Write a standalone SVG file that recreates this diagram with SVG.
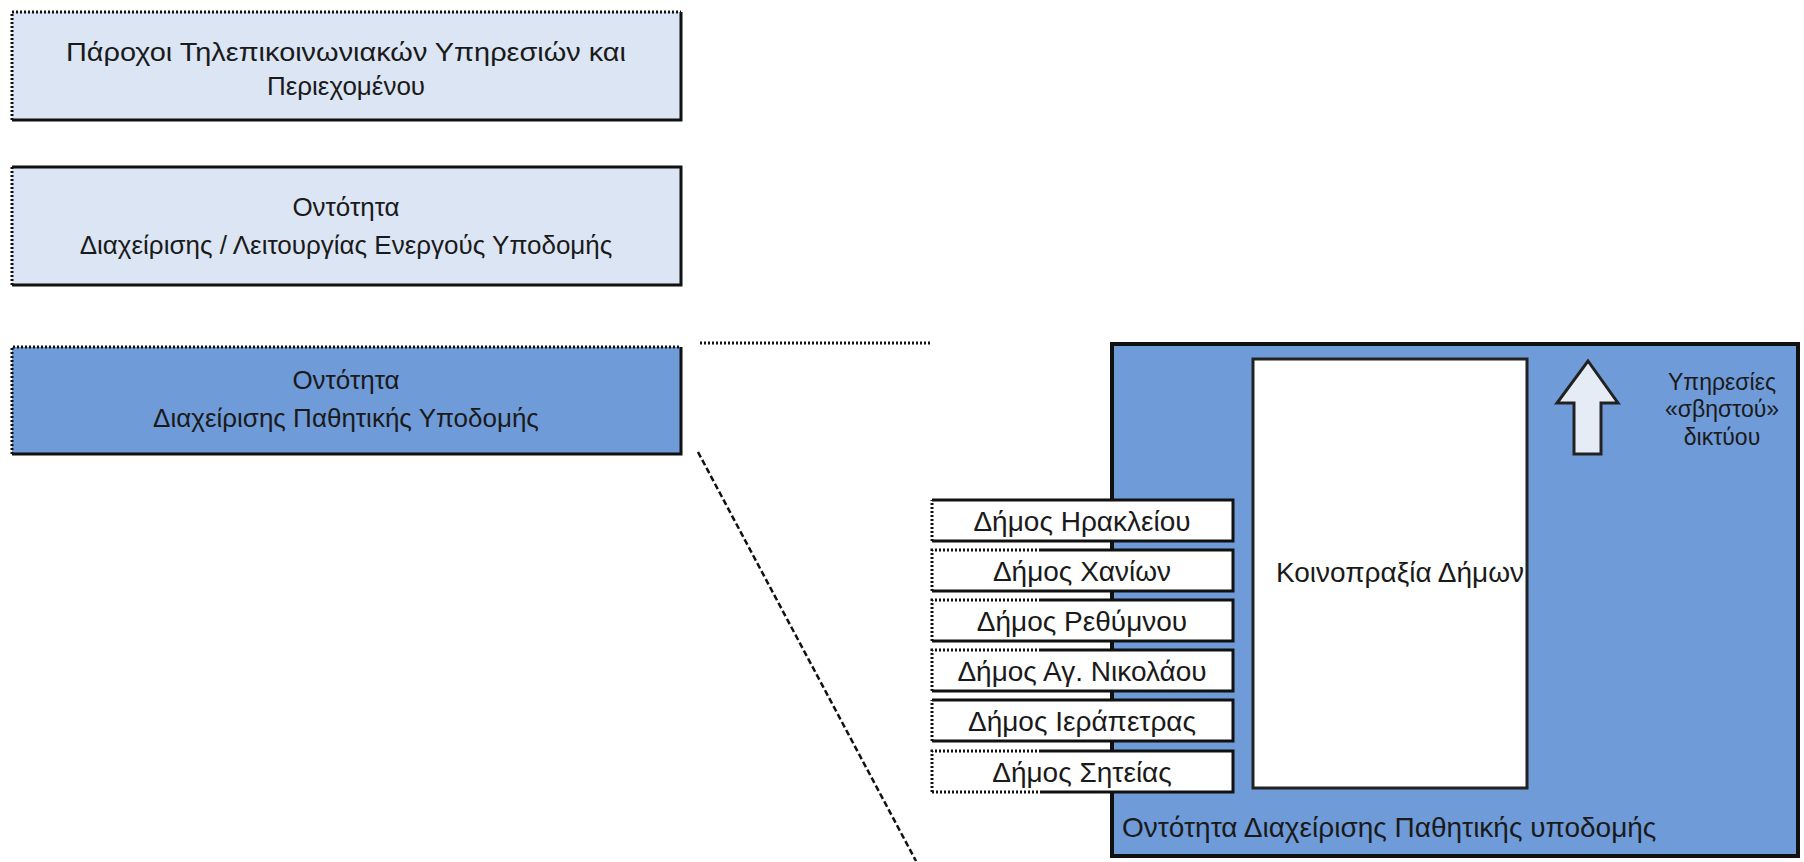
<svg xmlns="http://www.w3.org/2000/svg" width="1804" height="862" viewBox="0 0 1804 862">
<style>
text{font-family:"Liberation Sans","DejaVu Sans",sans-serif;fill:#1a1a1a;text-anchor:middle}
.t{font-size:26px}
.d{font-size:28px}
.s{font-size:23px}
.light{fill:#dbe5f4}
.mid{fill:#6f9bd8}
.solid{fill:none;stroke:#111;stroke-width:3}
.dot{fill:none;stroke:#111;stroke-width:3;stroke-dasharray:2 2}
.dimos{fill:#fff}
</style>
<rect width="1804" height="862" fill="#fff"/>
<g id="node-providers">
<rect class="light" x="12" y="12" width="669" height="108"/>
<path class="dot" d="M12,120 V12 H681"/>
<path class="solid" d="M681,12 V120 H12"/>
<text class="t" x="346" y="61" textLength="560" lengthAdjust="spacingAndGlyphs">Πάροχοι Τηλεπικοινωνιακών Υπηρεσιών και</text>
<text class="t" x="346" y="95">Περιεχομένου</text>
</g>
<g id="node-active">
<rect class="light" x="12" y="167" width="669" height="118"/>
<path class="dot" d="M12,285 V167"/>
<path class="solid" d="M12,167 H681 V285 H12"/>
<text class="t" x="346" y="216">Οντότητα</text>
<text class="t" x="346" y="254">Διαχείρισης / Λειτουργίας Ενεργούς Υποδομής</text>
</g>
<g id="node-passive">
<rect class="mid" x="12" y="347" width="669" height="107"/>
<path class="dot" d="M12,454 V347 H681"/>
<path class="solid" d="M681,347 V454 H12"/>
<text class="t" x="346" y="389">Οντότητα</text>
<text class="t" x="346" y="427">Διαχείρισης Παθητικής Υποδομής</text>
</g>
<g id="connectors">
<line x1="700" y1="343" x2="930" y2="343" stroke="#111" stroke-width="3" stroke-dasharray="2 2"/>
<line x1="698" y1="452" x2="916" y2="861" stroke="#111" stroke-width="2.5" stroke-dasharray="6 3"/>
</g>
<g id="node-container">
<rect class="mid" x="1112" y="344" width="686" height="512" stroke="#111" stroke-width="4"/>
<text class="d" x="1122" y="837" style="text-anchor:start">Οντότητα Διαχείρισης Παθητικής υποδομής</text>
</g>
<g id="node-consortium">
<rect x="1253" y="359" width="274" height="429" fill="#fff" stroke="#222" stroke-width="3"/>
<text class="d" x="1400" y="582">Κοινοπραξία Δήμων</text>
</g>
<g id="node-arrow">
<path d="M1588,361 L1618,403 H1601 V454 H1574 V403 H1557 Z" fill="#e6ecf6" stroke="#222" stroke-width="3" stroke-linejoin="miter"/>
<text class="s" x="1722" y="390">Υπηρεσίες</text>
<text class="s" x="1722" y="417">«σβηστού»</text>
<text class="s" x="1722" y="445">δικτύου</text>
</g>
<g id="node-dimos-1">
<rect class="dimos" x="932" y="500" width="301" height="41"/>
<path class="dot" d="M932,541 V500"/>
<path class="solid" d="M932,500 H1233 V541 H932"/>
<text class="d" x="1082" y="531">Δήμος Ηρακλείου</text>
</g>
<g id="node-dimos-2">
<rect class="dimos" x="932" y="550" width="301" height="41"/>
<path class="dot" d="M932,591 V550 H1040"/>
<path class="solid" d="M1040,550 H1233 V591 H932"/>
<text class="d" x="1082" y="581">Δήμος Χανίων</text>
</g>
<g id="node-dimos-3">
<rect class="dimos" x="932" y="600" width="301" height="41"/>
<path class="dot" d="M932,641 V600 H1040"/>
<path class="solid" d="M1040,600 H1233 V641 H932"/>
<text class="d" x="1082" y="631">Δήμος Ρεθύμνου</text>
</g>
<g id="node-dimos-4">
<rect class="dimos" x="932" y="650" width="301" height="41"/>
<path class="dot" d="M932,691 V650 H1040"/>
<path class="solid" d="M1040,650 H1233 V691 H932"/>
<text class="d" x="1082" y="681">Δήμος Αγ. Νικολάου</text>
</g>
<g id="node-dimos-5">
<rect class="dimos" x="932" y="700" width="301" height="41"/>
<path class="dot" d="M932,741 V700"/>
<path class="solid" d="M932,700 H1233 V741 H932"/>
<text class="d" x="1082" y="731">Δήμος Ιεράπετρας</text>
</g>
<g id="node-dimos-6">
<rect class="dimos" x="932" y="751" width="301" height="41"/>
<path class="dot" d="M932,792 V751 H1040 M932,792 H1040"/>
<path class="solid" d="M1040,751 H1233 V792 H1040"/>
<text class="d" x="1082" y="782">Δήμος Σητείας</text>
</g>
</svg>
